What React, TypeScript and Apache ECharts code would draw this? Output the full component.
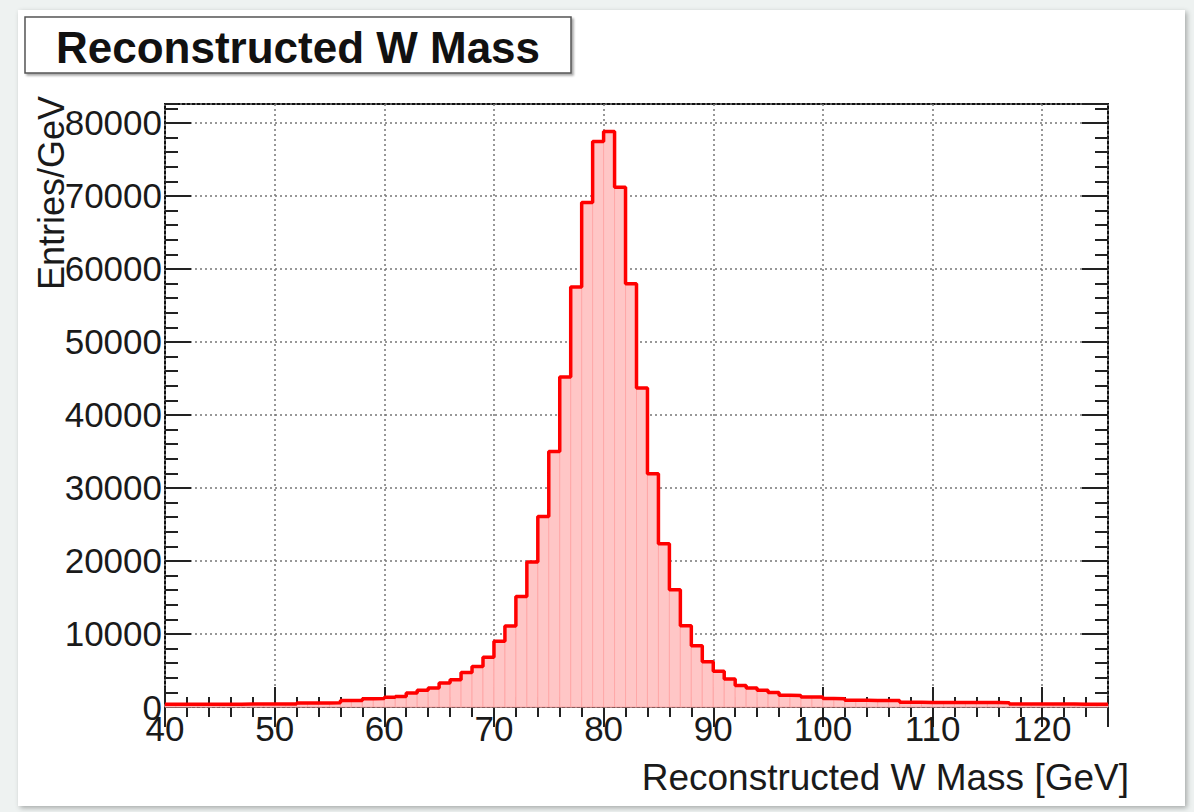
import React, { useEffect, useRef } from "react";
import * as echarts from "echarts";

// Histogram: bins of 1 GeV starting at X_MIN
const X_MIN = 40;
const X_MAX = 126;
const Y_MAX = 82600;
const binCounts = [
  360, 365, 370, 375, 380, 385, 390, 395, 400, 405, 410, 415, // 40-51
  540, 550, 560, 570, // 52-55
  880, 900, 1120, 1150, // 56-59
  1320, 1450, 1920, 2280, 2600, 3290, 3740, 4740, 5560, 6800, // 60-69
  8990, 11100, 15150, 19860, 26110, 35010, 45200, 57530, 69120, 77480, // 70-79
  78850, 71180, 57990, 43700, 31960, 22370, 16070, 11140, 8400, 6200, // 80-89
  4880, 3830, 2950, 2600, 2280, 2000, 1600, 1580, 1380, 1360, // 90-99
  1150, 1130, 920, 910, 900, 890, 880, 640, 635, 630, // 100-109
  625, 620, 615, 610, 605, 600, 595, 420, 415, 410, // 110-119
  405, 400, 395, 390, 385, 380, // 120-125
];
const titleText = "Reconstructed W Mass";
const xTitle = "Reconstructed W Mass [GeV]";
const yTitle = "Entries/GeV";

const FONT = "'Liberation Sans', Arial, Helvetica, sans-serif";

export default function App() {
  const ref = useRef<HTMLDivElement>(null);
  useEffect(() => {
    if (!ref.current) return;
    const chart = echarts.init(ref.current, undefined, { renderer: "svg" });

    const fillData = binCounts.map((v, i) => [X_MIN + i, X_MIN + i + 1, v]);
    const stepData = binCounts.map((v, i) => [X_MIN + i, v]);
    stepData.push([X_MIN + binCounts.length, binCounts[binCounts.length - 1]]);

    const tickStyle = { color: "#222", width: 2 };
    const gridLine = { show: true, lineStyle: { type: [2, 3] as any, color: "#777", width: 1.5 } };
    const xBase = { type: "value" as const, min: X_MIN, max: X_MAX, axisLine: { show: false } };
    const yBase = { type: "value" as const, min: 0, max: Y_MAX, axisLine: { show: false } };

    chart.setOption({
      animation: false,
      backgroundColor: "transparent",
      title: {
        text: titleText,
        left: 298,
        top: 25,
        textAlign: "center",
        padding: 0,
        textStyle: { fontFamily: FONT, fontSize: 44, fontWeight: "bold", color: "#111" },
      },
      grid: { left: 165, top: 104, width: 943, height: 603, show: true, borderColor: "#111", borderWidth: 2, backgroundColor: "transparent" },
      xAxis: [
        {
          ...xBase, position: "bottom", interval: 10,
          axisTick: { inside: true, length: 20, lineStyle: tickStyle },
          axisLabel: { fontFamily: FONT, fontSize: 35, color: "#1a1a1a", margin: 4, showMaxLabel: false, formatter: (v: number) => String(v) },
          splitLine: gridLine,
        },
        { ...xBase, position: "bottom", interval: 2, axisTick: { inside: true, length: 10, lineStyle: tickStyle }, axisLabel: { show: false }, splitLine: { show: false } },
        { ...xBase, position: "top", interval: 10, axisTick: { inside: true, length: 20, lineStyle: tickStyle }, axisLabel: { show: false }, splitLine: { show: false } },
        { ...xBase, position: "top", interval: 2, axisTick: { inside: true, length: 10, lineStyle: tickStyle }, axisLabel: { show: false }, splitLine: { show: false } },
      ],
      yAxis: [
        {
          ...yBase, position: "left", interval: 10000,
          axisTick: { inside: true, length: 26, lineStyle: tickStyle },
          axisLabel: { fontFamily: FONT, fontSize: 35, color: "#1a1a1a", margin: 3, showMaxLabel: false, formatter: (v: number) => String(v) },
          splitLine: gridLine,
        },
        { ...yBase, position: "left", interval: 2000, axisTick: { inside: true, length: 13, lineStyle: tickStyle }, axisLabel: { show: false }, splitLine: { show: false } },
        { ...yBase, position: "right", interval: 10000, axisTick: { inside: true, length: 26, lineStyle: tickStyle }, axisLabel: { show: false }, splitLine: { show: false } },
        { ...yBase, position: "right", interval: 2000, axisTick: { inside: true, length: 13, lineStyle: tickStyle }, axisLabel: { show: false }, splitLine: { show: false } },
      ],
      graphic: [
        {
          type: "rect", z: -1,
          shape: { x: 25, y: 17, width: 546, height: 56 },
          style: { fill: "#fff", stroke: "#555", lineWidth: 1.5, shadowColor: "rgba(0,0,0,0.35)", shadowOffsetX: 2, shadowOffsetY: 2, shadowBlur: 2 },
        },
        {
          type: "text", x: 1129, y: 777,
          style: { text: xTitle, fontFamily: FONT, fontSize: 37, fill: "#1a1a1a", textAlign: "right", textVerticalAlign: "middle" },
        },
        {
          type: "text", x: 51, y: 96, rotation: Math.PI / 2,
          style: { text: yTitle, fontFamily: FONT, fontSize: 36, fill: "#1a1a1a", textAlign: "right", textVerticalAlign: "middle" },
        },
      ],
      series: [
        {
          type: "custom",
          name: "fill",
          xAxisIndex: 0, yAxisIndex: 0,
          data: fillData,
          encode: { x: [0, 1], y: 2 },
          renderItem: (params: any, api: any) => {
            const p0 = api.coord([api.value(0), api.value(2)]);
            const p1 = api.coord([api.value(1), 0]);
            return {
              type: "rect",
              shape: { x: p0[0], y: p0[1], width: p1[0] - p0[0], height: p1[1] - p0[1] },
              style: { fill: "#ffc6c6", stroke: "#ffa8a8", lineWidth: 1 },
            };
          },
          z: 1,
        },
        {
          type: "line",
          name: "Reconstructed W Mass",
          xAxisIndex: 0, yAxisIndex: 0,
          data: stepData,
          step: "end",
          symbol: "none",
          lineStyle: { color: "#ff0000", width: 3.5 },
          z: 3,
        },
      ],
    });
    return () => chart.dispose();
  }, []);

  return (
    <div style={{ position: "absolute", left: 0, top: 0, width: 1194, height: 812, background: "#eef2f1", overflow: "hidden" }}>
      <div style={{ position: "absolute", left: 18, top: 10, width: 1167, height: 796, background: "#fff", boxShadow: "2px 2px 5px rgba(0,0,0,0.3)" }} />
      <div ref={ref} style={{ position: "absolute", left: 0, top: 0, width: 1194, height: 812 }} />
    </div>
  );
}
